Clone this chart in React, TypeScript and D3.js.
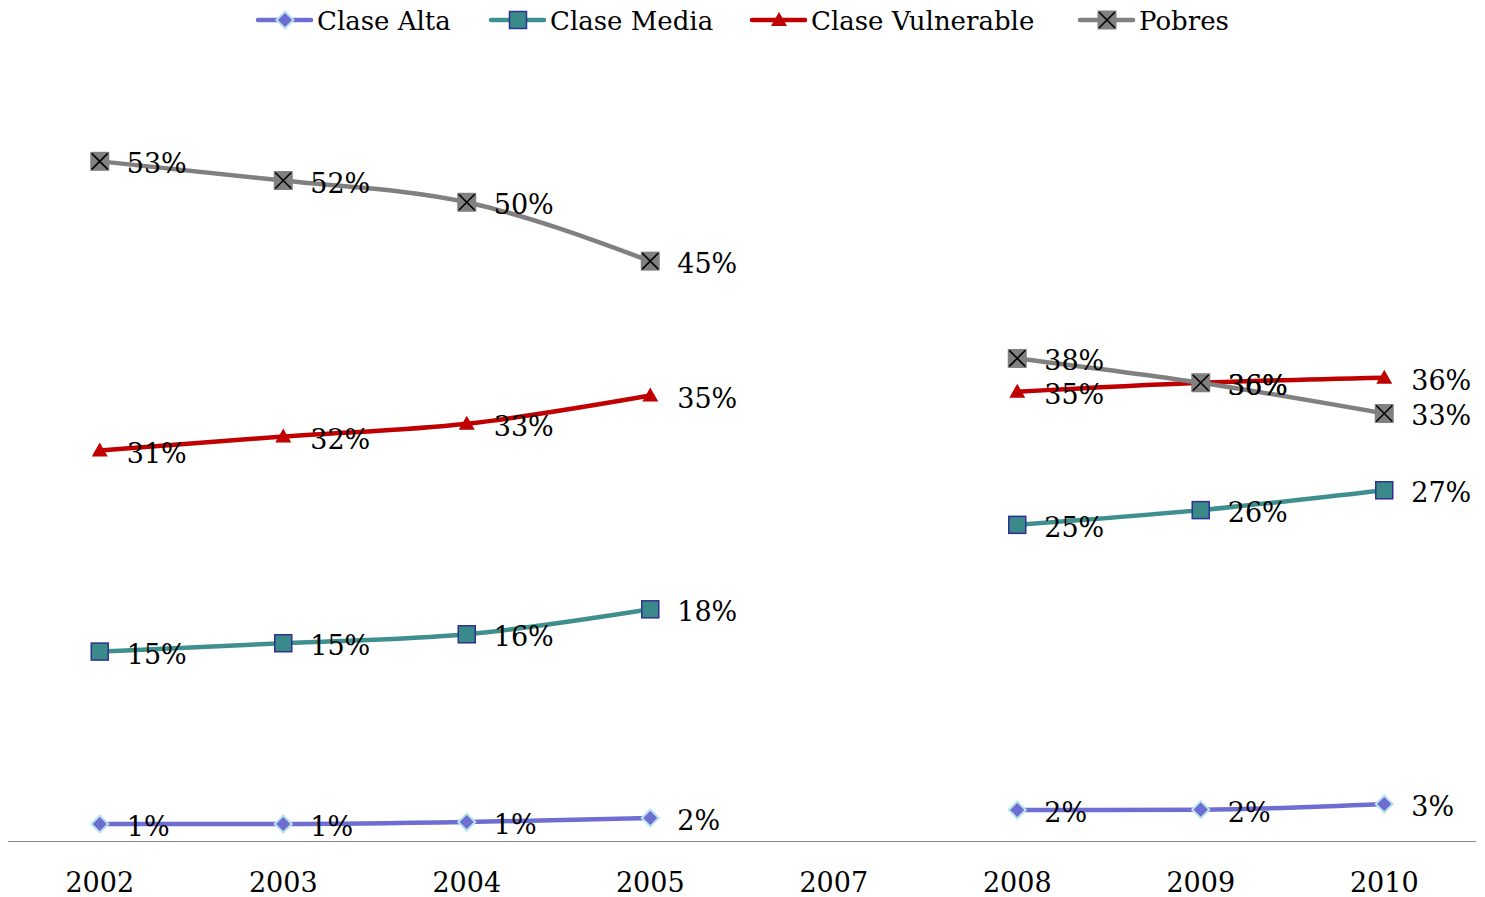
import React from "react";
import * as d3 from "d3";

const years = ["2002", "2003", "2004", "2005", "2007", "2008", "2009", "2010"];
const claseAlta: (number | null)[] = [1.33, 1.33, 1.48, 1.8, null, 2.42, 2.45, 2.89];
const claseMedia: (number | null)[] = [14.8, 15.45, 16.15, 18.1, null, 24.7, 25.85, 27.4];
const claseVulnerable: (number | null)[] = [30.5, 31.6, 32.6, 34.8, null, 35.1, 35.8, 36.2];
const pobres: (number | null)[] = [53.1, 51.6, 49.9, 45.3, null, 37.7, 35.8, 33.4];
const seriesNames = ["Clase Alta", "Clase Media", "Clase Vulnerable", "Pobres"];

const W = 1485, H = 897;
const FONT = "'DejaVu Serif', serif";

type S = { name: string; values: (number | null)[]; color: string; marker: string };
const series: S[] = [
  { name: seriesNames[0], values: claseAlta, color: "#6E6ED2", marker: "diamond" },
  { name: seriesNames[1], values: claseMedia, color: "#3F8F8F", marker: "square" },
  { name: seriesNames[2], values: claseVulnerable, color: "#C00000", marker: "triangle" },
  { name: seriesNames[3], values: pobres, color: "#808080", marker: "x" },
];

function Marker({ type, x, y }: { type: string; x: number; y: number }) {
  if (type === "diamond") {
    const r = 8.5;
    return <path d={`M${x},${y - r}L${x + r},${y}L${x},${y + r}L${x - r},${y}Z`} fill="#6E6ED2" stroke="#B8E4EA" strokeWidth={2} />;
  }
  if (type === "square") {
    return <rect x={x - 8.5} y={y - 8.5} width={17} height={17} fill="#3A8A8A" stroke="#2E3192" strokeWidth={1.5} />;
  }
  if (type === "triangle") {
    return <path d={`M${x},${y - 8}L${x + 8},${y + 6}L${x - 8},${y + 6}Z`} fill="#C00000" />;
  }
  return (
    <g>
      <rect x={x - 9.5} y={y - 9.5} width={19} height={19} fill="#808080" />
      <path d={`M${x - 8},${y - 8}L${x + 8},${y + 8}M${x + 8},${y - 8}L${x - 8},${y + 8}`} stroke="#000" strokeWidth={1.6} />
    </g>
  );
}

export default function App() {
  const x = d3.scaleBand().domain(years).range([8, 1476]);
  const y = d3.scaleLinear().domain([0, 60]).range([841, 73]);
  const cx = (yr: string) => (x(yr) as number) + x.bandwidth() / 2;
  const line = d3
    .line<number | null>()
    .defined((d) => d !== null)
    .x((_, i) => cx(years[i]))
    .y((d) => y(d as number))
    .curve(d3.curveMonotoneX);

  const legendX = [258, 491, 752, 1080];

  return (
    <svg width={W} height={H} style={{ position: "absolute", left: 0, top: 0 }} fontFamily={FONT}>
      <line x1={8} x2={1476} y1={841.5} y2={841.5} stroke="#888" strokeWidth={1.2} />
      {years.map((yr) => (
        <text key={yr} x={cx(yr)} y={892} textAnchor="middle" fontSize={27} fill="#000">{yr}</text>
      ))}
      {series.map((s) => (
        <path key={s.name} d={line(s.values) || ""} fill="none" stroke={s.color} strokeWidth={4.5} />
      ))}
      {series.map((s) =>
        s.values.map((v, i) =>
          v === null ? null : <Marker key={s.name + i} type={s.marker} x={cx(years[i])} y={y(v)} />
        )
      )}
      {series.map((s) =>
        s.values.map((v, i) =>
          v === null ? null : (
            <text key={s.name + "l" + i} x={cx(years[i]) + 27} y={y(v) + 12} fontSize={27} fill="#000">
              {Math.round(v) + "%"}
            </text>
          )
        )
      )}
      {series.map((s, i) => (
        <g key={s.name + "leg"}>
          <line x1={legendX[i]} x2={legendX[i] + 53} y1={20} y2={20} stroke={s.color} strokeWidth={4.5} strokeLinecap="round" />
          <Marker type={s.marker} x={legendX[i] + 27} y={20} />
          <text x={legendX[i] + 59} y={30} fontSize={26} fill="#000">{s.name}</text>
        </g>
      ))}
    </svg>
  );
}
